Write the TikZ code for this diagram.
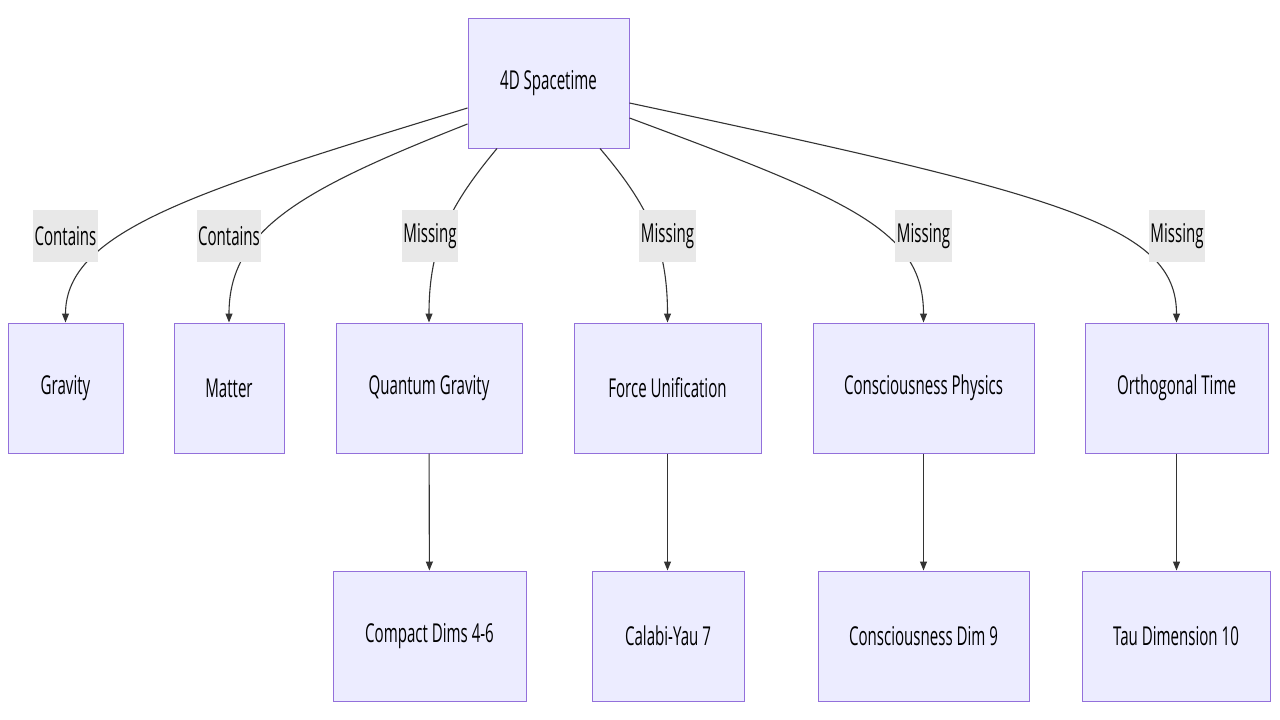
\documentclass[tikz,border=0pt]{standalone}
\usepackage{fontspec}
\setmainfont[FakeStretch=0.58]{Open Sans}
\usetikzlibrary{arrows.meta}
\definecolor{boxfill}{HTML}{ECECFF}
\definecolor{boxline}{HTML}{9370DB}
\definecolor{lblfill}{HTML}{E8E8E8}
\definecolor{ink}{HTML}{333333}
\begin{document}
\begin{tikzpicture}[x=1pt,y=-1pt,
  box/.style={draw=boxline, fill=boxfill, line width=1pt, minimum height=130pt, text=black, font=\fontsize{26}{29}\selectfont},
  lbl/.style={fill=lblfill, inner xsep=1.5pt, minimum height=52pt, text=black, font=\fontsize{26}{29}\selectfont},
  edge/.style={draw=ink, line width=1.1pt, -{Triangle[length=9pt,width=7pt]}}]
\useasboundingbox (0,0) rectangle (1280,720);
\fill[white] (0,0) rectangle (1280,720);
\node[box, minimum width=161pt] (st) at (548.5,83) {4D Spacetime};
\node[box, minimum width=115pt] (grav) at (65.5,388) {Gravity};
\node[box, minimum width=110pt] (mat) at (229,388) {Matter};
\node[box, minimum width=186pt] (qg) at (429,388) {Quantum Gravity};
\node[box, minimum width=187pt] (fu) at (667.5,388) {Force Unification};
\node[box, minimum width=221pt] (cp) at (923.5,388) {Consciousness Physics};
\node[box, minimum width=183pt] (ot) at (1176.5,388) {Orthogonal Time};
\node[box, minimum width=193pt] (cd) at (429.5,636) {Compact Dims 4-6};
\node[box, minimum width=152pt] (cy) at (668,636) {Calabi-Yau 7};
\node[box, minimum width=211pt] (cdim) at (923.5,636) {Consciousness Dim 9};
\node[box, minimum width=188pt] (tau) at (1176,636) {Tau Dimension 10};
\draw[edge] ([yshift=-25pt]st.west) .. controls (200,190) and (65.5,230) .. (grav.north);
\draw[edge] ([yshift=-41pt]st.west) .. controls (300,190) and (229,230) .. (mat.north);
\draw[edge] ([xshift=-51.5pt]st.south) .. controls (450,205) and (429,245) .. (qg.north);
\draw[edge] ([xshift=51.5pt]st.south) .. controls (648,205) and (667.5,245) .. (fu.north);
\draw[edge] ([yshift=-35pt]st.east) .. controls (850,200) and (923.5,230) .. (cp.north);
\draw[edge] ([yshift=-20pt]st.east) .. controls (1060,195) and (1176.5,225) .. (ot.north);
\node[lbl] (l1) at (65.5,236) {Contains};
\node[lbl] (l2) at (229,236) {Contains};
\node[lbl] (l3) at (430,236) {Missing};
\node[lbl] (l4) at (667.5,236) {Missing};
\node[lbl] (l5) at (923.5,236) {Missing};
\node[lbl] (l6) at (1177,236) {Missing};
\draw[edge] (qg) -- (cd);
\draw[edge] (fu.south) -- (fu.south |- cy.north);
\draw[edge] (cp) -- (cdim);
\draw[edge] (ot.south) -- (ot.south |- tau.north);
\end{tikzpicture}
\end{document}
